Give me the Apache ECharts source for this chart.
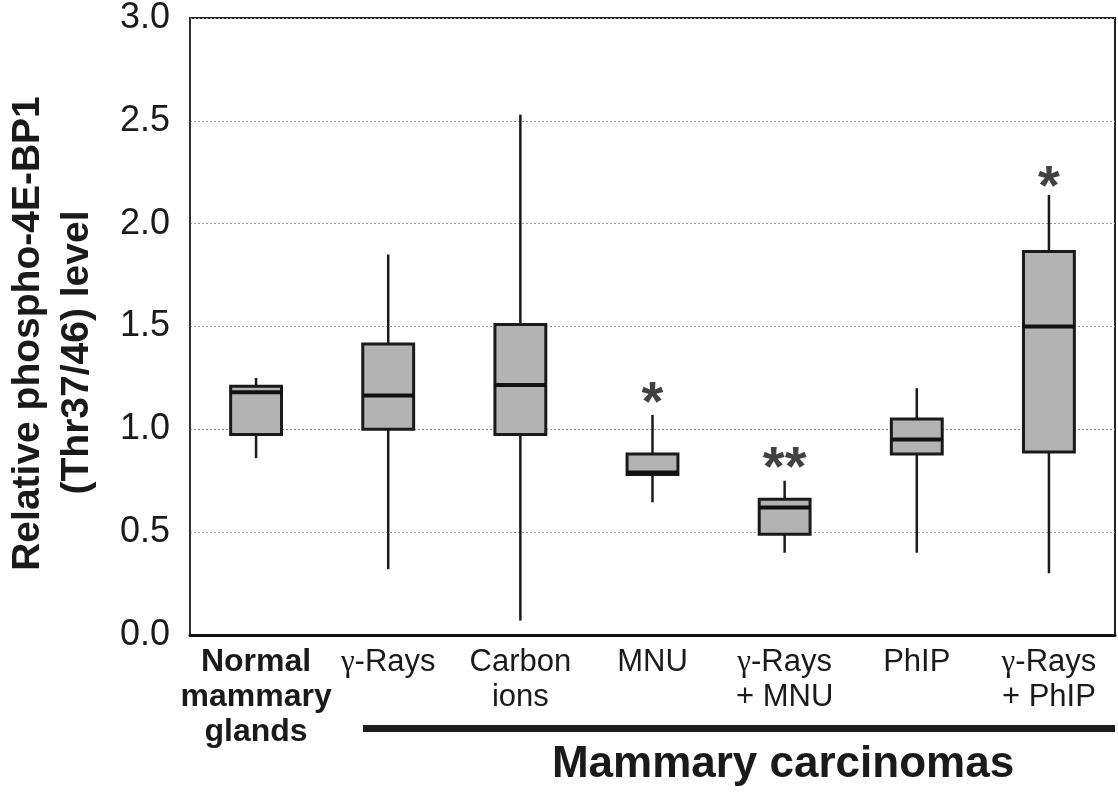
<!DOCTYPE html>
<html><head><meta charset="utf-8">
<script src="https://cdn.jsdelivr.net/npm/echarts@6/dist/echarts.min.js"></script>
<style>html,body{margin:0;padding:0;background:#fff}#c{width:1118px;height:795px}</style>
</head><body><div id="c"></div>
<script>
// ---- data ----
const categories = ['Normal\nmammary\nglands', 'γ-Rays', 'Carbon\nions', 'MNU', 'γ-Rays\n+ MNU', 'PhIP', 'γ-Rays\n+ PhIP'];
const whiskerMin = [0.86, 0.32, 0.07, 0.645, 0.40, 0.40, 0.30];
const q1         = [0.975, 1.00, 0.975, 0.78, 0.49, 0.88, 0.89];
const median     = [1.18, 1.165, 1.215, 0.79, 0.62, 0.95, 1.50];
const q3         = [1.21, 1.415, 1.51, 0.88, 0.66, 1.05, 1.865];
const whiskerMax = [1.25, 1.85, 2.53, 1.07, 0.75, 1.20, 2.14];
const sigCategory = [3, 4, 6];
const sigText = ['*', '**', '*'];
const sigValue = [1.167, 0.854, 2.219];
const yTitleLines = ['Relative phospho-4E-BP1', '(Thr37/46) level'];
const groupTitle = 'Mammary carcinomas';

const FONT = '"Liberation Sans", Arial, Helvetica, sans-serif';
const chart = echarts.init(document.getElementById('c'), null, {renderer: 'canvas'});

const boxData = categories.map((c, i) => [i, whiskerMin[i], q1[i], median[i], q3[i], whiskerMax[i]]);
const sigData = sigCategory.map((c, k) => ({value: [c, sigValue[k]], label: {formatter: sigText[k]}}));

chart.setOption({
  animation: false,
  backgroundColor: '#fff',
  grid: {left: 190, right: 3, top: 13, bottom: 160, show: true, borderColor: '#222', borderWidth: 2, backgroundColor: 'transparent'},
  xAxis: {
    type: 'category', data: categories,
    axisLine: {show: true, lineStyle: {color: '#111', width: 3}},
    axisTick: {show: false},
    splitLine: {show: false},
    axisLabel: {
      interval: 0, margin: 10, color: '#1a1a1a',
      formatter: (val, idx) => val.split('\n').map(line => {
        const tag = idx === 0 ? 'b' : 'r';
        return line.split('γ').map((part, j) => (j > 0 ? '{g|γ}' : '') + (part ? '{' + tag + '|' + part + '}' : '')).join('');
      }).join('\n'),
      rich: {
        b: {fontFamily: FONT, fontSize: 32, fontWeight: 'bold', lineHeight: 35, color: '#1a1a1a'},
        r: {fontFamily: FONT, fontSize: 31, lineHeight: 35, color: '#1a1a1a'},
        g: {fontFamily: '"Liberation Serif", serif', fontSize: 31, lineHeight: 35, color: '#1a1a1a'}
      }
    }
  },
  yAxis: {
    type: 'value', min: 0, max: 3, interval: 0.5,
    name: '{a|' + yTitleLines[0] + '}\n{b|' + yTitleLines[1] + '}',
    nameLocation: 'middle', nameGap: 88, nameRotate: 90,
    nameTextStyle: {
      rich: {
        a: {fontFamily: FONT, fontSize: 39, fontWeight: 'bold', lineHeight: 49, color: '#1a1a1a', padding: [0, 14, 0, 0]},
        b: {fontFamily: FONT, fontSize: 39, fontWeight: 'bold', lineHeight: 49, color: '#1a1a1a', padding: [0, 52, 0, 0]}
      }
    },
    axisLine: {show: true, lineStyle: {color: '#333', width: 1.5}},
    axisTick: {show: false},
    axisLabel: {formatter: v => v.toFixed(1), fontFamily: FONT, fontSize: 36, color: '#1a1a1a', margin: 20},
    splitLine: {show: true, lineStyle: {color: '#999', width: 1, type: [2, 2]}}
  },
  series: [
    {
      type: 'custom', data: boxData, encode: {x: 0, y: [1, 2, 3, 4, 5]}, z: 3,
      renderItem: (params, api) => {
        const i = api.value(0);
        const x = api.coord([i, 0])[0];
        const yMin = api.coord([i, api.value(1)])[1];
        const yQ1 = api.coord([i, api.value(2)])[1];
        const yMed = api.coord([i, api.value(3)])[1];
        const yQ3 = api.coord([i, api.value(4)])[1];
        const yMax = api.coord([i, api.value(5)])[1];
        const w = api.size([1, 0])[0] * 0.385;
        const ls = {stroke: '#1a1a1a', lineWidth: 2.5};
        return {type: 'group', children: [
          {type: 'line', shape: {x1: x, y1: yMax, x2: x, y2: yQ3}, style: ls},
          {type: 'line', shape: {x1: x, y1: yQ1, x2: x, y2: yMin}, style: ls},
          {type: 'rect', shape: {x: x - w / 2, y: yQ3, width: w, height: yQ1 - yQ3}, style: {fill: '#b3b3b3', stroke: '#1a1a1a', lineWidth: 3}},
          {type: 'line', shape: {x1: x - w / 2, y1: yMed, x2: x + w / 2, y2: yMed}, style: {stroke: '#111', lineWidth: 4}}
        ]};
      }
    },
    {
      type: 'scatter', data: sigData, symbolSize: 0, silent: true, z: 4,
      label: {show: true, position: 'inside', fontFamily: FONT, fontSize: 56, fontWeight: 'bold', color: '#111', offset: [0, 10]}
    }
  ],
  graphic: [
    {type: 'rect', shape: {x: 363, y: 725, width: 752, height: 7}, style: {fill: '#1c1c1c'}},
    {type: 'text', x: 783, y: 765, style: {text: groupTitle, fontFamily: FONT, fontSize: 44, fontWeight: 'bold', fill: '#1a1a1a', align: 'center', verticalAlign: 'middle'}}
  ]
});
</script></body></html>
